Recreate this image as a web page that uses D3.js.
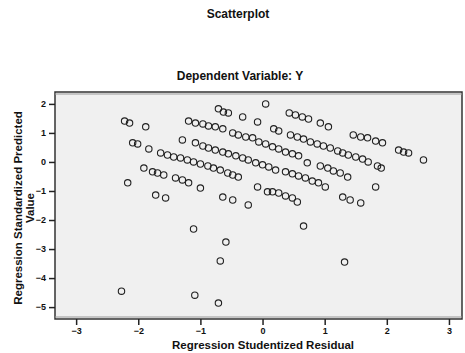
<!DOCTYPE html>
<html>
<head>
<meta charset="utf-8">
<script src="https://cdn.jsdelivr.net/npm/d3@7"></script>
<style>
  body { margin: 0; background: #fff; }
  text { font-family: "Liberation Sans", Arial, sans-serif; fill: #111; }
</style>
</head>
<body>
<svg width="465" height="353"></svg>
<script>
// regression studentized residual (x) and standardized predicted value (y), one pair per case
const residual = [
  0.05, 0.43, 0.53, 0.64, 0.74, 0.93, 1.06, 1.46, 1.58, 1.69, 1.82, 1.93, 2.19, 2.27, 2.35, 2.59,
  -0.71, -0.63, -0.55, -0.32, -0.08, 0.18, 0.26, 0.45, 0.56, 0.66, 0.77, 0.88, 0.98, 1.09, 1.21, 1.29, 1.38, 1.50, 1.61, 1.70, 1.85, 1.91,
  -1.19, -1.08, -0.96, -0.87, -0.76, -0.64, -0.48, -0.39, -0.27, -0.16, -0.06, 0.05, 0.16, 0.26, 0.37, 0.48, 0.58, 0.72, 0.93, 1.05, 1.14, 1.25, 1.37, 1.82,
  -2.22, -2.14, -1.88, -1.29, -1.08, -0.96, -0.87, -0.76, -0.64, -0.55, -0.43, -0.32, -0.23, -0.11, 0.00, 0.10, 0.21, 0.37, 0.48, 0.58, 0.69, 0.80, 0.90, 1.01, 1.29, 1.41, 1.58,
  -2.09, -2.01, -1.83, -1.64, -1.53, -1.43, -1.32, -1.21, -1.11, -1.00, -0.88, -0.79, -0.68, -0.56, -0.48, -0.39, -0.08, 0.08, 0.16, 0.26, 0.37, 0.48, 0.56,
  -1.91, -1.77, -1.69, -1.59, -1.40, -1.29, -1.19, -1.00, -0.64, -0.48, -0.23,
  -2.17, -1.72, -1.56,
  -1.11, -0.59, -0.68, -2.27, -1.09, -0.71, 0.66, 1.32
];
const predicted = [
  2.00, 1.69, 1.62, 1.55, 1.48, 1.34, 1.21, 0.93, 0.86, 0.83, 0.72, 0.66, 0.41, 0.34, 0.31, 0.07,
  1.83, 1.72, 1.69, 1.55, 1.38, 1.14, 1.07, 0.93, 0.86, 0.79, 0.69, 0.62, 0.55, 0.48, 0.38, 0.31, 0.24, 0.17, 0.10, 0.00, -0.14, -0.21,
  1.41, 1.34, 1.31, 1.24, 1.21, 1.14, 1.00, 0.93, 0.86, 0.83, 0.69, 0.62, 0.52, 0.45, 0.34, 0.28, 0.21, -0.03, -0.14, -0.21, -0.31, -0.38, -0.52, -0.86,
  1.41, 1.34, 1.21, 0.76, 0.66, 0.55, 0.48, 0.41, 0.34, 0.28, 0.21, 0.14, 0.07, -0.03, -0.10, -0.17, -0.28, -0.34, -0.41, -0.48, -0.55, -0.66, -0.72, -0.86, -1.21, -1.31, -1.41,
  0.66, 0.62, 0.45, 0.31, 0.24, 0.17, 0.14, 0.07, 0.00, -0.07, -0.14, -0.21, -0.28, -0.38, -0.45, -0.52, -0.86, -1.03, -1.03, -1.07, -1.17, -1.24, -1.38,
  -0.21, -0.34, -0.38, -0.45, -0.55, -0.62, -0.72, -0.90, -1.21, -1.31, -1.48,
  -0.72, -1.14, -1.24,
  -2.31, -2.76, -3.41, -4.45, -4.59, -4.86, -2.21, -3.45
];
const xTicks = [-3, -2, -1, 0, 1, 2, 3];
const yTicks = [2, 1, 0, -1, -2, -3, -4, -5];

const svg = d3.select("svg");
const plotL = 55, plotR = 462, plotT = 92, plotB = 319;

const x = d3.scaleLinear().domain([-3.34, 3.21]).range([plotL, plotR]);
const y = d3.scaleLinear().domain([-5.41, 2.41]).range([plotB, plotT]);

// titles
svg.append("text").attr("x", 238).attr("y", 18).attr("text-anchor", "middle")
   .attr("font-size", 12).attr("font-weight", "bold").text("Scatterplot");
svg.append("text").attr("x", 240).attr("y", 80).attr("text-anchor", "middle")
   .attr("font-size", 12).attr("font-weight", "bold").text("Dependent Variable: Y");

// plot frame
svg.append("rect").attr("x", plotL).attr("y", plotT)
   .attr("width", plotR - plotL).attr("height", plotB - plotT)
   .attr("fill", "#f0f0f0").attr("stroke", "#333").attr("stroke-width", 1.5);
svg.append("line").attr("x1", plotL).attr("x2", plotR).attr("y1", plotT + 2).attr("y2", plotT + 2)
   .attr("stroke", "#999");
svg.append("line").attr("x1", plotL).attr("x2", plotR).attr("y1", plotB - 2).attr("y2", plotB - 2)
   .attr("stroke", "#999");

// axes
const xAxis = svg.append("g").attr("transform", `translate(0,${plotB})`)
   .call(d3.axisBottom(x).tickValues(xTicks).tickSize(6).tickSizeOuter(0).tickFormat(d3.format("d")));
const yAxis = svg.append("g").attr("transform", `translate(${plotL},0)`)
   .call(d3.axisLeft(y).tickValues(yTicks).tickSize(6).tickSizeOuter(0).tickFormat(d3.format("d")));
[xAxis, yAxis].forEach(g => {
  g.select(".domain").remove();
  g.selectAll("line").attr("stroke", "#222").attr("stroke-width", 1.5);
  g.selectAll("text").attr("font-size", 9).attr("font-weight", "bold").attr("fill", "#111")
   .style("font-family", '"Liberation Sans", Arial, sans-serif');
});

// axis titles
svg.append("text").attr("x", 263).attr("y", 349).attr("text-anchor", "middle")
   .attr("font-size", 11.5).attr("font-weight", "bold").text("Regression Studentized Residual");
const yl = svg.append("text").attr("transform", "translate(22,208) rotate(-90)")
   .attr("text-anchor", "middle").attr("font-size", 11.5).attr("font-weight", "bold");
yl.append("tspan").attr("x", 0).attr("dy", 0).text("Regression Standardized Predicted");
yl.append("tspan").attr("x", 0).attr("dy", 12).text("Value");

// points
svg.append("g").selectAll("circle")
   .data(d3.zip(residual, predicted))
   .join("circle")
   .attr("cx", d => x(d[0]))
   .attr("cy", d => y(d[1]))
   .attr("r", 3.2)
   .attr("fill", "none")
   .attr("stroke", "#222")
   .attr("stroke-width", 1.1);
</script>
</body>
</html>
